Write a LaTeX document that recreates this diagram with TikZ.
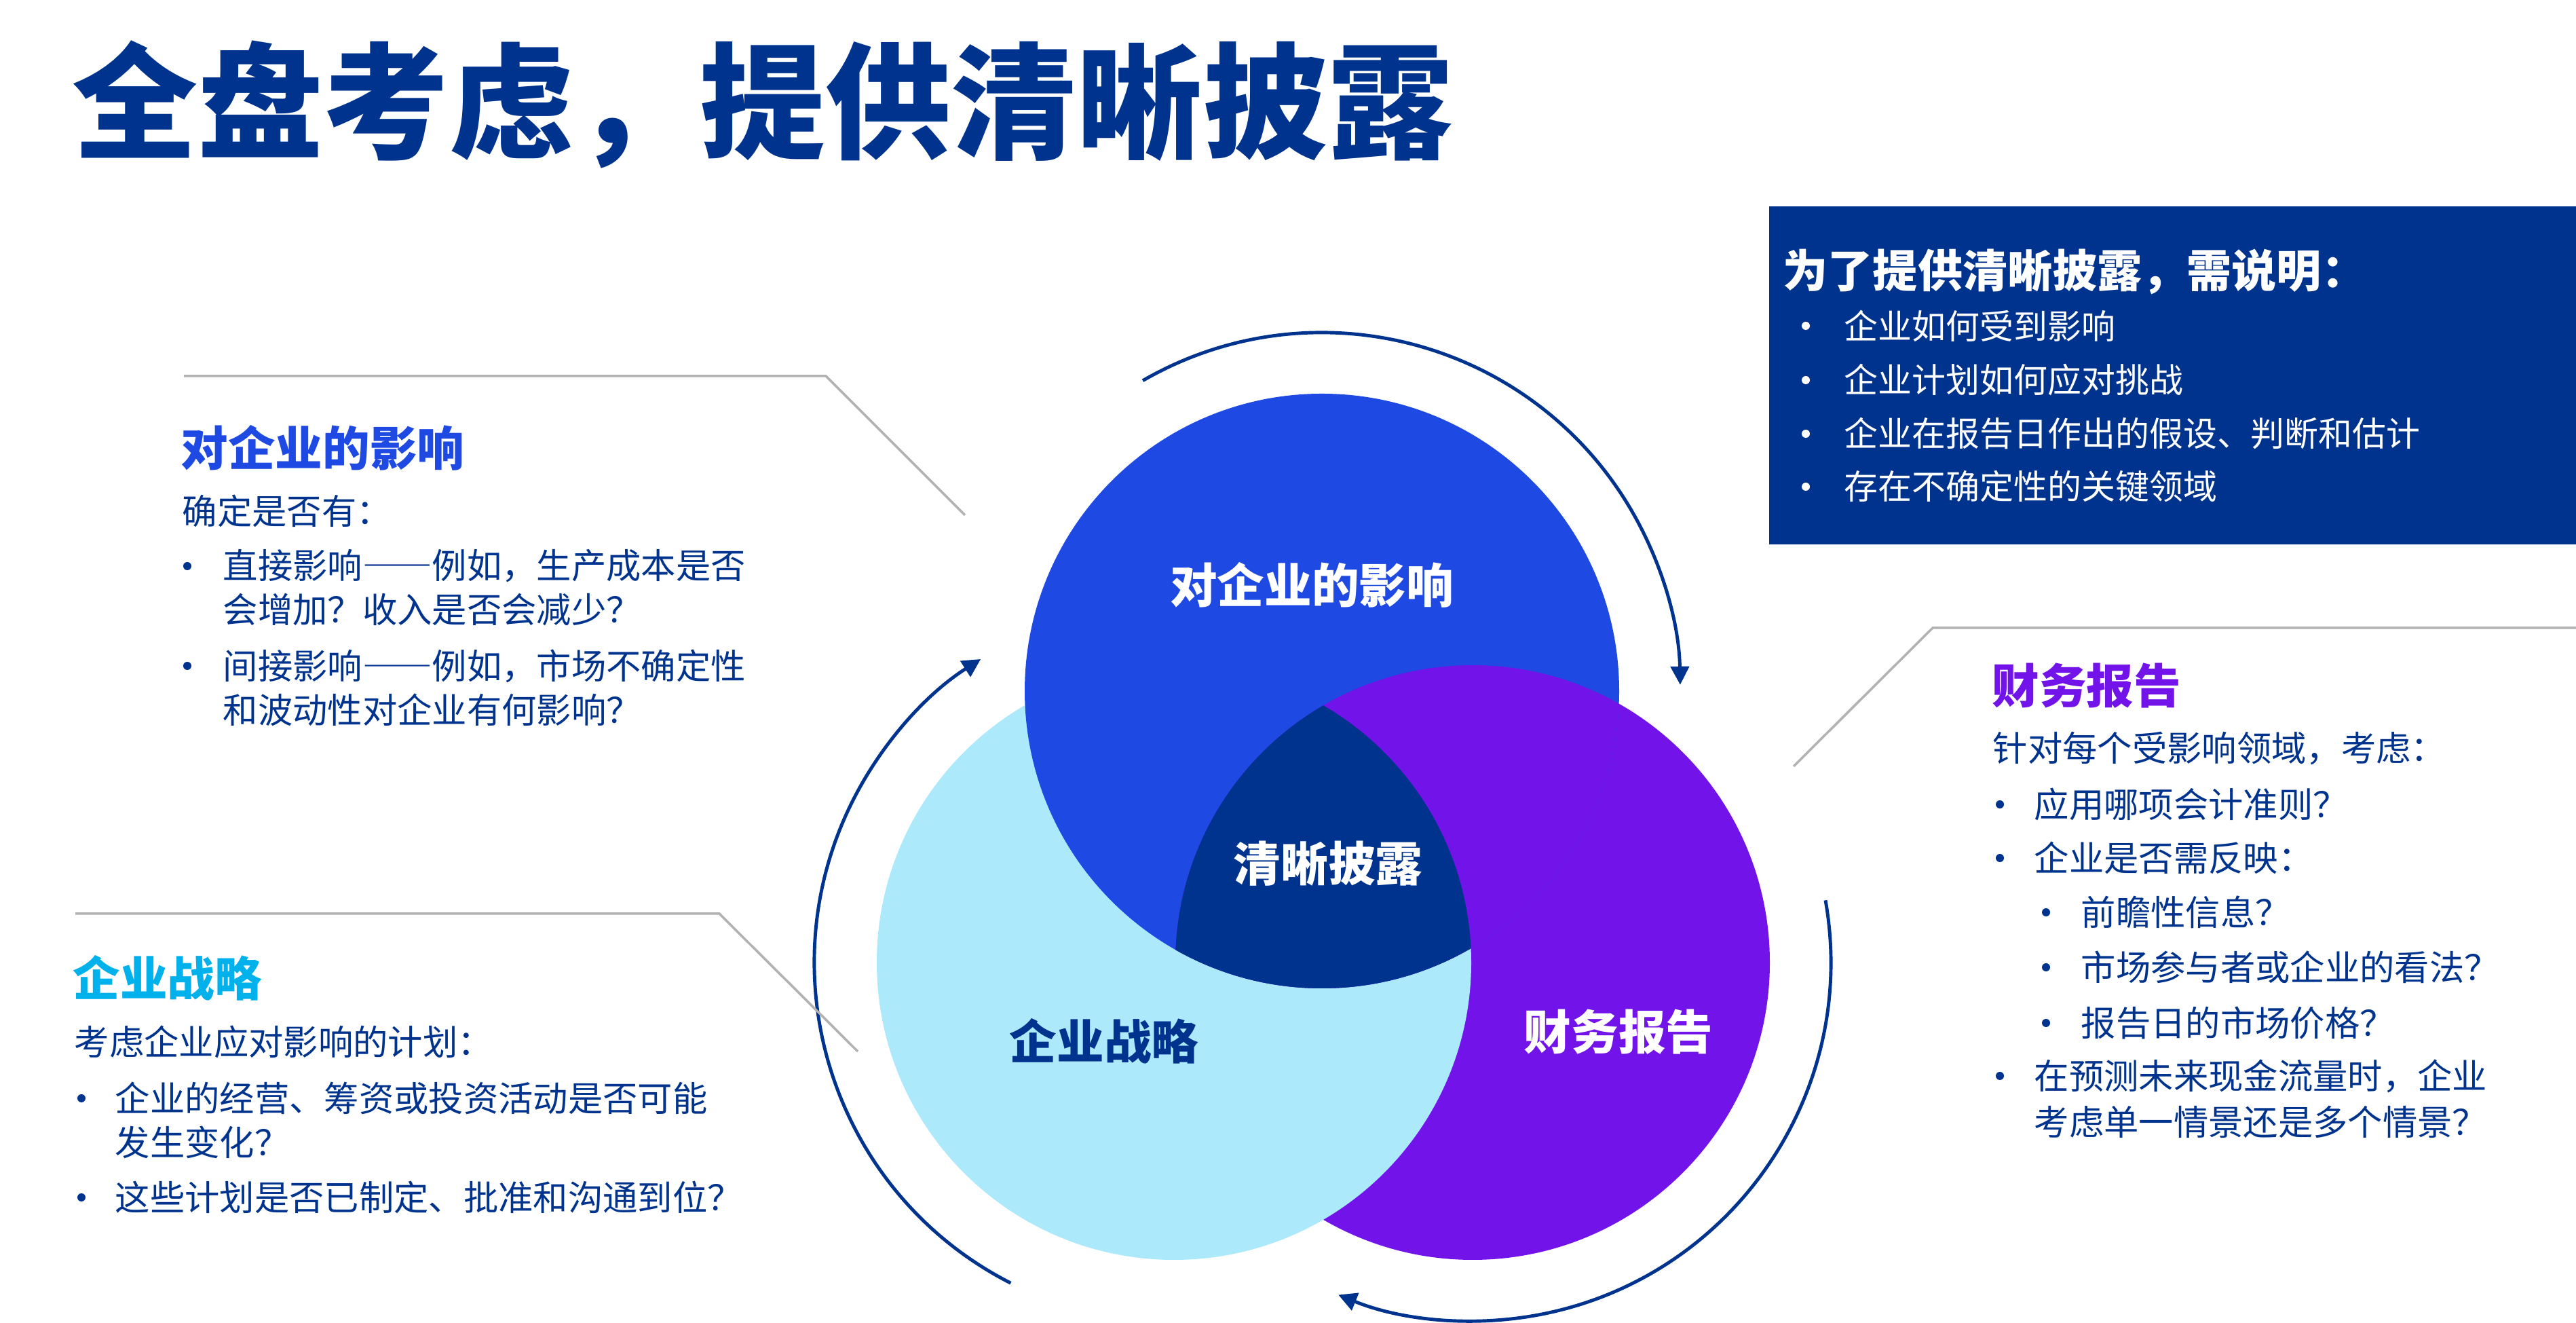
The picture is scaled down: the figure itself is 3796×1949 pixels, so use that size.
\documentclass[tikz,border=0pt]{standalone}
\usepackage{fontspec}
\setmainfont{Noto Sans CJK SC}
\usetikzlibrary{arrows.meta}
\definecolor{knavy}{HTML}{00338D}
\definecolor{kblue}{HTML}{1E49E2}
\definecolor{klight}{HTML}{ACE9FB}
\definecolor{kpurple}{HTML}{7213EA}
\definecolor{kcyan}{HTML}{00B1EB}
\definecolor{kgrey}{HTML}{B2B2B2}
\newcommand{\kdash}{{\addfontfeatures{CharacterWidth=Full}——}}

\begin{document}
\begin{tikzpicture}[x=0.01cm, y=0.01cm,
  every node/.style={inner sep=0pt, anchor=west, text=knavy, font=\fontsize{14.6}{17}\selectfont},
  headtxt/.style={font=\fontsize{19.8}{24}\selectfont\bfseries},
  circlbl/.style={anchor=center, text=white, font=\fontsize{19.8}{24}\selectfont\bfseries},
  boxtxt/.style={text=white, font=\fontsize{14.2}{17}\selectfont},
  bulletdot/.style={circle, fill=knavy, minimum size=0.12cm, anchor=center},
  callout/.style={draw=kgrey, line width=1pt},
  cycarrow/.style={draw=knavy, line width=1.4pt, -{Triangle[length=0.27cm, width=0.27cm]}}]
  \useasboundingbox (0,0) rectangle (3796,1949);
  \fill[white] (0,0) rectangle (3796,1949);

  % title
  \node[font=\fontsize{52.6}{60}\selectfont\bfseries] (title) at (106,1795) {全盘考虑，提供清晰披露};

  % box top right
  \fill[knavy] (2607,1147) rectangle (3796,1645);
  \node[boxtxt, font=\fontsize{18.8}{22}\selectfont\bfseries] (bhead) at (2627,1549) {为了提供清晰披露，需说明：};
  \node[bulletdot, fill=white] (bd1) at (2661,1469) {};
  \node[boxtxt] (b1) at (2717,1469) {企业如何受到影响};
  \node[bulletdot, fill=white] (bd2) at (2661,1389) {};
  \node[boxtxt] (b2) at (2717,1389) {企业计划如何应对挑战};
  \node[bulletdot, fill=white] (bd3) at (2661,1310) {};
  \node[boxtxt] (b3) at (2717,1310) {企业在报告日作出的假设、判断和估计};
  \node[bulletdot, fill=white] (bd4) at (2661,1232) {};
  \node[boxtxt] (b4) at (2717,1232) {存在不确定性的关键领域};

  % three circles
  \coordinate (impact) at (1948,931);
  \coordinate (strat) at (1730,531);
  \coordinate (report) at (2170,531);
  \fill[kpurple] (report) circle[radius=438];
  \fill[klight] (strat) circle[radius=438];
  \fill[kblue] (impact) circle[radius=438];
  \begin{scope}
    \clip (impact) circle[radius=438];
    \fill[kpurple] (report) circle[radius=438];
  \end{scope}
  \begin{scope}
    \clip (impact) circle[radius=438];
    \clip (strat) circle[radius=438];
    \fill[knavy] (report) circle[radius=438];
  \end{scope}
  \node[circlbl] (impactlbl) at (1933,1087) {对企业的影响};
  \node[circlbl] (clearlbl) at (1957,677) {清晰披露};
  \node[circlbl, text=knavy] (stratlbl) at (1627,415) {企业战略};
  \node[circlbl] (reportlbl) at (2385,429) {财务报告};

  % arrows round the circles
  \draw[cycarrow] ([shift={(120:528)}]impact) arc[start angle=120, end angle=1, radius=528];
  \draw[cycarrow] ([shift={(10:528)}]report) arc[start angle=10, end angle=-112, radius=528];
  \draw[cycarrow] ([shift={(243:530)}]strat) arc[start angle=243, end angle=122.5, radius=530];

  % callout lines
  \coordinate (ia) at (271,1395);
  \coordinate (ib) at (1217,1395);
  \coordinate (ic) at (1422,1190);
  \draw[callout] (ia) -- (ib) -- (ic);
  \coordinate (sa) at (111,603);
  \coordinate (sb) at (1060,603);
  \coordinate (sc) at (1264,400);
  \draw[callout] (sa) -- (sb) -- (sc);
  \coordinate (ra) at (2643,820);
  \coordinate (rb) at (2848,1024);
  \coordinate (rc) at (3796,1024);
  \draw[callout] (ra) -- (rb) -- (rc);

  % impact text
  \node[headtxt, text=kblue] (ihead) at (266,1289) {对企业的影响};
  \node (ilead) at (268,1196) {确定是否有：};
  \node[bulletdot] (id1) at (276,1115) {};
  \node (i1a) at (328,1115) {直接影响\kdash 例如，生产成本是否};
  \node (i1b) at (328,1051) {会增加？收入是否会减少？};
  \node[bulletdot] (id2) at (276,968) {};
  \node (i2a) at (328,968) {间接影响\kdash 例如，市场不确定性};
  \node (i2b) at (328,903) {和波动性对企业有何影响？};

  % strategy text
  \node[headtxt, text=kcyan] (shead) at (107,508) {企业战略};
  \node (slead) at (109,414) {考虑企业应对影响的计划：};
  \node[bulletdot] (sd1) at (120,331) {};
  \node (s1a) at (169,331) {企业的经营、筹资或投资活动是否可能};
  \node (s1b) at (169,266) {发生变化？};
  \node[bulletdot] (sd2) at (120,185) {};
  \node (s2) at (169,185) {这些计划是否已制定、批准和沟通到位？};

  % reporting text
  \node[headtxt, text=kpurple] (rhead) at (2935,939) {财务报告};
  \node (rlead) at (2936,846) {针对每个受影响领域，考虑：};
  \node[bulletdot] (rd1) at (2947,764) {};
  \node (r1) at (2997,764) {应用哪项会计准则？};
  \node[bulletdot] (rd2) at (2947,685) {};
  \node (r2) at (2997,685) {企业是否需反映：};
  \node[bulletdot] (rd21) at (3015,605) {};
  \node (r21) at (3066,605) {前瞻性信息？};
  \node[bulletdot] (rd22) at (3015,524) {};
  \node (r22) at (3066,524) {市场参与者或企业的看法？};
  \node[bulletdot] (rd23) at (3015,442) {};
  \node (r23) at (3066,442) {报告日的市场价格？};
  \node[bulletdot] (rd3) at (2947,364) {};
  \node (r3a) at (2997,364) {在预测未来现金流量时，企业};
  \node (r3b) at (2997,296) {考虑单一情景还是多个情景？};
\end{tikzpicture}
\end{document}
